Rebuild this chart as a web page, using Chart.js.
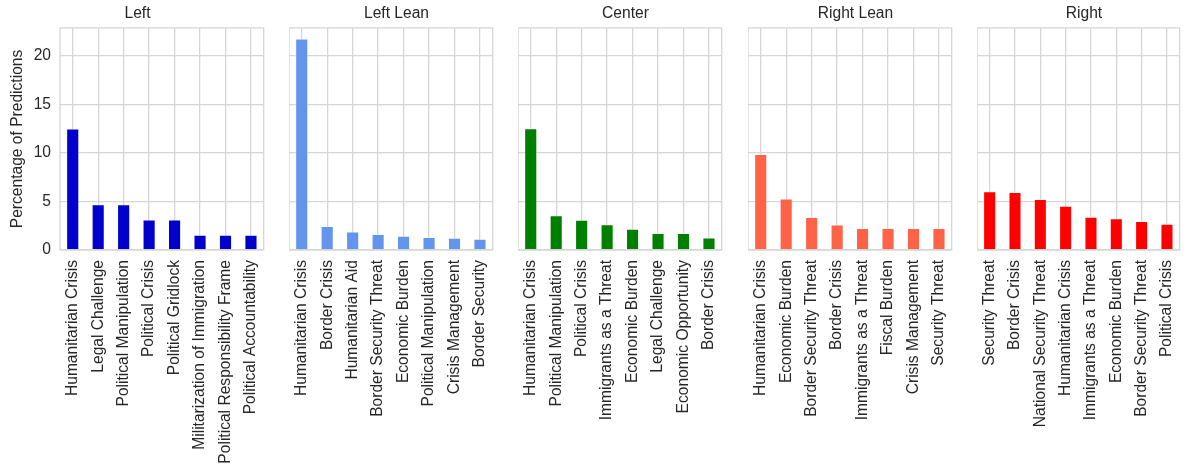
<!DOCTYPE html>
<html>
<head>
<meta charset="utf-8">
<script src="https://cdn.jsdelivr.net/npm/chart.js@4.4.0/dist/chart.umd.min.js"></script>
<style>
  body { margin:0; background:#fff; }
  #wrap { position:relative; width:1196px; height:466px; }
  #wrap div { position:absolute; top:0; height:466px; }
</style>
</head>
<body>
<div id="wrap">
  <div style="left:0px;width:280px"><canvas id="c0"></canvas></div>
  <div style="left:289px;width:220px"><canvas id="c1"></canvas></div>
  <div style="left:518px;width:220px"><canvas id="c2"></canvas></div>
  <div style="left:748px;width:220px"><canvas id="c3"></canvas></div>
  <div style="left:977px;width:219px"><canvas id="c4"></canvas></div>
</div>
<script>
// groups (panel titles)
const groups = ['Left', 'Left Lean', 'Center', 'Right Lean', 'Right'];

const leftLabels = ['Humanitarian Crisis', 'Legal Challenge', 'Political Manipulation', 'Political Crisis',
  'Political Gridlock', 'Militarization of Immigration', 'Political Responsibility Frame', 'Political Accountability'];
const leftValues = [12.5, 4.69, 4.69, 3.13, 3.13, 1.56, 1.56, 1.56];

const leftLeanLabels = ['Humanitarian Crisis', 'Border Crisis', 'Humanitarian Aid', 'Border Security Threat',
  'Economic Burden', 'Political Manipulation', 'Crisis Management', 'Border Security'];
const leftLeanValues = [21.8, 2.46, 1.9, 1.63, 1.45, 1.32, 1.24, 1.14];

const centerLabels = ['Humanitarian Crisis', 'Political Manipulation', 'Political Crisis', 'Immigrants as a Threat',
  'Economic Burden', 'Legal Challenge', 'Economic Opportunity', 'Border Crisis'];
const centerValues = [12.54, 3.56, 3.1, 2.64, 2.18, 1.72, 1.72, 1.28];

const rightLeanLabels = ['Humanitarian Crisis', 'Economic Burden', 'Border Security Threat', 'Border Crisis',
  'Immigrants as a Threat', 'Fiscal Burden', 'Crisis Management', 'Security Threat'];
const rightLeanValues = [9.88, 5.29, 3.39, 2.6, 2.26, 2.26, 2.26, 2.26];

const rightLabels = ['Security Threat', 'Border Crisis', 'National Security Threat', 'Humanitarian Crisis',
  'Immigrants as a Threat', 'Economic Burden', 'Border Security Threat', 'Political Crisis'];
const rightValues = [6.05, 5.95, 5.25, 4.53, 3.42, 3.25, 2.97, 2.69];

const yTicks = [0, 5, 10, 15, 20];

const panelLabels = [leftLabels, leftLeanLabels, centerLabels, rightLeanLabels, rightLabels];
const panelValues = [leftValues, leftLeanValues, centerValues, rightLeanValues, rightValues];
const colors = ['#0000cd', '#6495ed', '#008000', '#ff6347', '#ff0000'];

const txt = '#262626';
const gridCol = '#d6d6d6';
const fontFam = '"Liberation Sans", Arial, sans-serif';
const fs = 15.6;

// draws the light frame around each plot area
const frame = {
  id: 'frame',
  afterDraw(chart) {
    const {ctx, chartArea: {left, top, right, bottom}} = chart;
    ctx.save();
    ctx.strokeStyle = gridCol;
    ctx.lineWidth = 1.3;
    ctx.strokeRect(left, top, right - left, bottom - top);
    ctx.restore();
  }
};

function drawPanel(i) {
  const first = i === 0;
  const ctx = document.getElementById('c' + i).getContext('2d');
  new Chart(ctx, {
    type: 'bar',
    data: {
      labels: panelLabels[i],
      datasets: [{
        data: panelValues[i],
        backgroundColor: colors[i],
        borderColor: 'rgba(255,255,255,0.45)',
        borderWidth: 0.8,
        barPercentage: 0.5,
        categoryPercentage: 1.0
      }]
    },
    options: {
      responsive: true,
      maintainAspectRatio: false,
      animation: false,
      layout: { padding: { left: 0, right: 5, top: 0, bottom: 0 } },
      plugins: {
        legend: { display: false },
        tooltip: { enabled: false },
        title: {
          display: true,
          text: groups[i],
          color: txt,
          font: { family: fontFam, size: fs, weight: 'normal', lineHeight: 1.15 },
          padding: { top: 5, bottom: 5 }
        }
      },
      scales: {
        x: {
          grid: { color: gridCol, lineWidth: 1.3, offset: false, drawTicks: false },
          border: { display: false },
          ticks: {
            color: txt,
            font: { family: fontFam, size: fs },
            minRotation: 90,
            maxRotation: 90,
            autoSkip: false,
            padding: 10
          },
          afterFit(scale) { scale.height = 216; }
        },
        y: {
          min: 0,
          max: 22.9,
          afterBuildTicks(scale) { scale.ticks = yTicks.map(v => ({value: v})); },
          grid: { color: gridCol, lineWidth: 1.3, drawTicks: false },
          border: { display: false },
          ticks: {
            display: first,
            color: txt,
            font: { family: fontFam, size: fs },
            padding: 9
          },
          title: {
            display: first,
            text: 'Percentage of Predictions',
            color: txt,
            font: { family: fontFam, size: fs },
            padding: { top: 8, bottom: 0 }
          },
          afterFit(scale) { scale.width = first ? 60 : 0; }
        }
      }
    },
    plugins: [frame]
  });
}

for (let i = 0; i < groups.length; i++) drawPanel(i);
</script>
</body>
</html>
